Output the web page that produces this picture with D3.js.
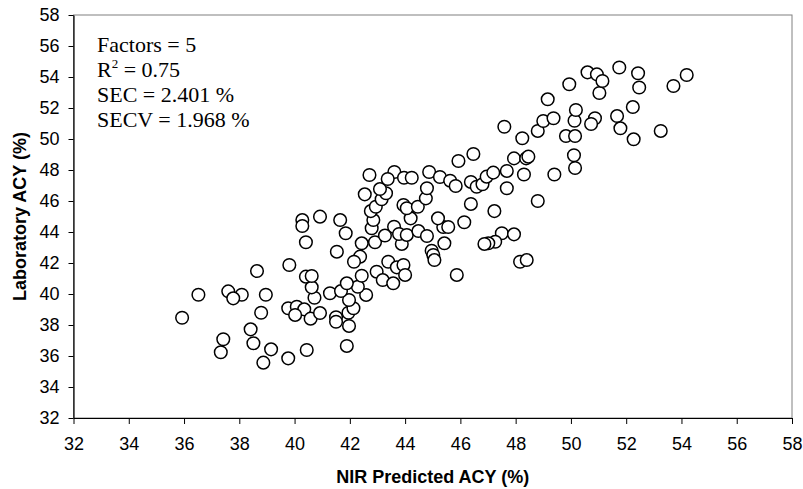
<!DOCTYPE html>
<html><head><meta charset="utf-8">
<script src="https://cdn.jsdelivr.net/npm/d3@7"></script>
<style>body{margin:0;background:#fff} svg{display:block}</style>
</head><body>
<svg id="chart" width="803" height="489"></svg>
<script>
const predicted = [35.93,36.52,37.60,38.09,37.78,38.96,38.79,38.64,38.41,38.51,37.42,37.33,39.15,38.87,
39.77,40.44,41.89,41.97,39.77,40.08,40.35,40.02,40.58,40.92,41.50,41.50,41.95,42.13,41.97,41.28,41.68,42.59,42.29,41.89,40.72,40.62,40.41,40.62,39.81,41.53,40.41,42.43,42.97,43.39,43.70,43.94,44.00,43.19,43.57,42.37,42.15,42.43,42.91,43.88,44.96,45.02,45.06,45.87,45.42,41.85,42.79,43.27,43.60,43.78,44.06,44.48,44.79,45.38,45.56,46.14,45.19,40.28,40.28,40.92,41.65,42.85,44.20,42.76,42.94,43.94,44.06,44.46,46.38,43.15,42.54,43.31,43.09,44.75,44.79,42.71,43.61,43.96,44.24,43.37,44.87,45.26,45.63,45.83,46.38,46.59,46.80,46.95,47.19,47.68,48.30,49.40,50.15,47.68,48.80,47.23,47.50,47.94,47.26,47.01,46.87,48.16,48.40,46.47,45.93,47.94,48.38,48.46,50.11,47.59,48.80,48.24,49.82,50.15,52.27,53.25,49.00,49.37,50.13,50.18,49.16,50.87,50.73,51.67,51.79,52.24,49.94,51.03,50.60,50.94,51.14,51.75,52.43,52.47,54.19,53.71];
const laboratory = [38.47,39.95,40.17,39.95,39.72,39.95,38.79,41.48,37.72,36.82,37.08,36.24,36.43,35.57,
35.85,36.39,36.65,37.94,39.08,39.18,39.01,38.65,38.41,38.77,38.50,38.21,38.79,39.08,39.61,40.05,40.19,39.94,40.47,40.69,39.76,40.43,41.12,41.16,41.87,42.73,43.34,41.18,41.44,42.08,41.72,41.87,41.23,40.90,40.69,42.41,42.08,43.27,43.34,43.23,42.79,42.52,42.19,41.23,43.27,43.92,44.24,43.77,44.34,43.87,43.81,44.06,43.74,44.32,44.32,44.63,44.88,44.77,44.39,44.99,44.77,44.77,44.88,45.35,45.63,45.74,45.53,45.63,45.81,46.11,46.43,46.50,46.77,46.17,46.82,47.68,47.87,47.50,47.50,47.42,47.87,47.55,47.31,46.97,47.23,46.92,47.08,47.57,47.83,47.94,47.71,47.71,48.13,46.82,46.00,45.35,43.92,43.85,43.37,43.27,43.23,42.08,42.19,49.03,48.58,48.75,48.75,48.86,48.95,50.79,50.52,50.05,50.19,50.19,49.98,50.52,51.16,51.34,51.18,51.87,52.56,51.34,50.97,51.48,50.69,52.06,53.53,52.97,54.30,54.17,53.74,54.61,54.24,53.32,54.13,53.42];
const xTickValues = [32,34,36,38,40,42,44,46,48,50,52,54,56,58];
const yTickValues = [32,34,36,38,40,42,44,46,48,50,52,54,56,58];
const xTitle = "NIR Predicted ACY (%)";
const yTitle = "Laboratory ACY (%)";
const factorsText = "Factors = 5";
const r2Value = "0.75";
const secText = "SEC = 2.401 %";
const secvText = "SECV = 1.968 %";

(function () {
const svg = d3.select("#chart");
const pl = 73.5, pr = 792, pt = 15, pb = 418;
const x = d3.scaleLinear().domain([32, 58]).range([pl, pr]);
const y = d3.scaleLinear().domain([32, 58]).range([pb, pt]);
const sans = "'Liberation Sans', Arial, sans-serif";

svg.append("rect").attr("x", pl).attr("y", pt).attr("width", pr - pl).attr("height", pb - pt)
  .attr("fill", "none").attr("stroke", "#808080").attr("stroke-width", 1);

const xAxis = svg.append("g").attr("transform", `translate(0,${pb})`)
  .call(d3.axisBottom(x).tickValues(xTickValues).tickSize(6).tickSizeOuter(0).tickPadding(13));
const yAxis = svg.append("g").attr("transform", `translate(${pl},0)`)
  .call(d3.axisLeft(y).tickValues(yTickValues).tickSize(5).tickSizeOuter(0).tickPadding(9));
[xAxis, yAxis].forEach(g => {
  g.selectAll("path.domain").attr("stroke", "#000").attr("stroke-width", 1.2);
  g.selectAll(".tick line").attr("stroke", "#000");
  g.selectAll(".tick text").attr("fill", "#000").style("font-family", sans).style("font-size", "18px");
});

const pts = predicted.map((p, i) => ({p, l: laboratory[i]}));
svg.append("g").selectAll("circle").data(pts).join("circle")
  .attr("cx", d => x(d.p)).attr("cy", d => y(d.l)).attr("r", 6.3)
  .attr("fill", "#fff").attr("stroke", "#000").attr("stroke-width", 1.5);

const ann = svg.append("g").style("font-family", "'Liberation Serif', 'Times New Roman', serif")
  .style("font-size", "22px").attr("fill", "#000");
ann.append("text").attr("x", 97).attr("y", 51.5).text(factorsText);
const r2 = ann.append("text").attr("x", 97).attr("y", 76.5);
r2.append("tspan").text("R");
r2.append("tspan").attr("dy", -9).style("font-size", "13px").text("2");
r2.append("tspan").attr("dy", 9).text(" = " + r2Value);
ann.append("text").attr("x", 97).attr("y", 101.5).text(secText);
ann.append("text").attr("x", 97).attr("y", 126.5).text(secvText);

svg.append("text").attr("x", (pl + pr) / 2).attr("y", 483).attr("text-anchor", "middle")
  .style("font-family", sans).style("font-weight", "bold").style("font-size", "18px")
  .text(xTitle);
svg.append("text").attr("transform", `translate(26,${(pt + pb) / 2}) rotate(-90)`).attr("text-anchor", "middle")
  .style("font-family", sans).style("font-weight", "bold").style("font-size", "18px")
  .text(yTitle);
})();
</script>
</body></html>
